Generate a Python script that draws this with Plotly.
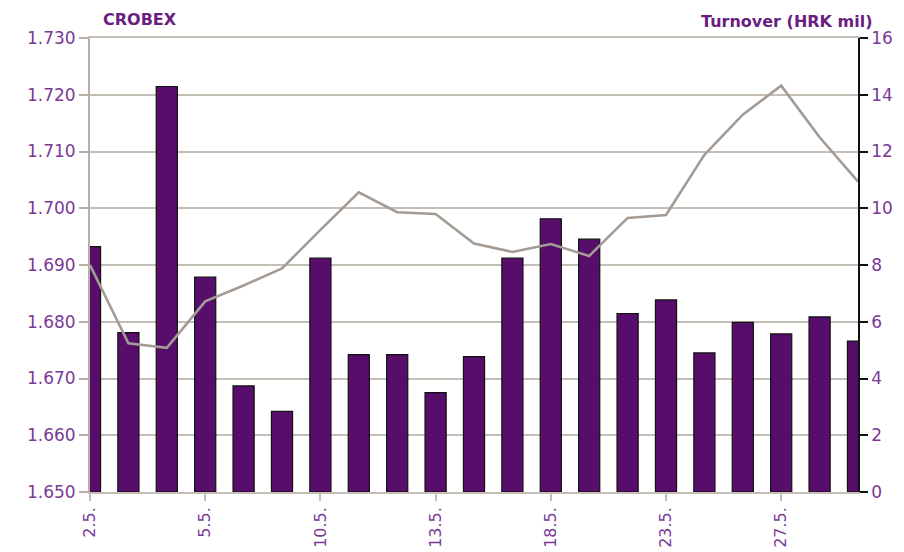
import plotly.graph_objects as go

dates = ["2.5.", "3.5.", "4.5.", "5.5.", "6.5.", "9.5.", "10.5.", "11.5.", "12.5.", "13.5.",
         "16.5.", "17.5.", "18.5.", "19.5.", "20.5.", "23.5.", "24.5.", "25.5.", "27.5.", "30.5.", "31.5."]
turnover = [8.65, 5.62, 14.29, 7.57, 3.74, 2.84, 8.24, 4.84, 4.84, 3.50,
            4.77, 8.24, 9.63, 8.91, 6.29, 6.77, 4.90, 5.98, 5.57, 6.17, 5.32]
crobex = [1.6900, 1.6762, 1.6754, 1.6836, 1.6864, 1.6894, 1.6962, 1.7028, 1.6993, 1.6990,
          1.6938, 1.6923, 1.6937, 1.6916, 1.6983, 1.6988, 1.7094, 1.7165, 1.7216, 1.7125, 1.7047]
tick_idx = [0, 3, 6, 9, 12, 15, 18]

xs = list(range(len(dates)))
TICK = "#7B3897"
TITLE = "#6A1E80"
GRID = "#C4BEB7"
FONT = "DejaVu Sans"

# page body has an 8px margin, so the figure is offset by 8px
W, H = 896, 544
L, R, T, B = 82, 46, 30, 60

fig = go.Figure()
fig.add_trace(go.Bar(x=xs, y=turnover, yaxis="y", width=0.55,
                     marker=dict(color="#570E6B", line=dict(color="#111111", width=1.2)),
                     name="Turnover"))
fig.add_trace(go.Scatter(x=xs, y=crobex, yaxis="y2", mode="lines",
                         line=dict(color="#A39B94", width=2.6), name="CROBEX"))

fig.update_layout(
    width=W, height=H,
    margin=dict(l=L, r=R, t=T, b=B, autoexpand=False),
    paper_bgcolor="white", plot_bgcolor="white",
    showlegend=False,
    font=dict(family=FONT, color=TICK),
    xaxis=dict(range=[0, 20], tickmode="array", tickvals=[xs[i] for i in tick_idx],
               ticktext=[dates[i] for i in tick_idx], tickangle=-90, automargin=False,
               tickfont=dict(size=16, color=TICK), showgrid=False,
               showline=True, linecolor=GRID, linewidth=1.5, mirror=True,
               ticks="outside", ticklen=7, tickcolor=GRID, tickwidth=1.5, zeroline=False),
    yaxis=dict(range=[0, 16], dtick=2, side="right", tickfont=dict(size=17, color=TICK),
               showgrid=True, gridcolor=GRID, gridwidth=1.5, automargin=False,
               showline=True, linecolor="#111111", linewidth=1.5,
               ticks="outside", ticklen=8, tickcolor="#111111", tickwidth=1.5, zeroline=False),
    yaxis2=dict(range=[1.650, 1.730], dtick=0.01, tickformat=".3f", side="left",
                overlaying="y", tickfont=dict(size=17, color=TICK), showgrid=False,
                automargin=False,
                showline=True, linecolor="#B8B0A8", linewidth=2,
                ticks="outside", ticklen=9, tickcolor="#B8B0A8", tickwidth=1.5, zeroline=False),
)
pw, ph = W - L - R, H - T - B
x0, ybot = 90, 492  # plot-area left and bottom in window pixels
fig.add_annotation(text="<b>CROBEX</b>", x=(101 - x0) / pw, y=(ybot - 20) / ph,
                   xref="paper", yref="paper", showarrow=False, xanchor="left", yanchor="middle",
                   font=dict(size=16, color=TITLE, family=FONT))
fig.add_annotation(text="<b>Turnover (HRK mil)</b>", x=(875 - x0) / pw, y=(ybot - 22) / ph,
                   xref="paper", yref="paper", showarrow=False, xanchor="right", yanchor="middle",
                   font=dict(size=16, color=TITLE, family=FONT))

fig.write_html("out.html")
